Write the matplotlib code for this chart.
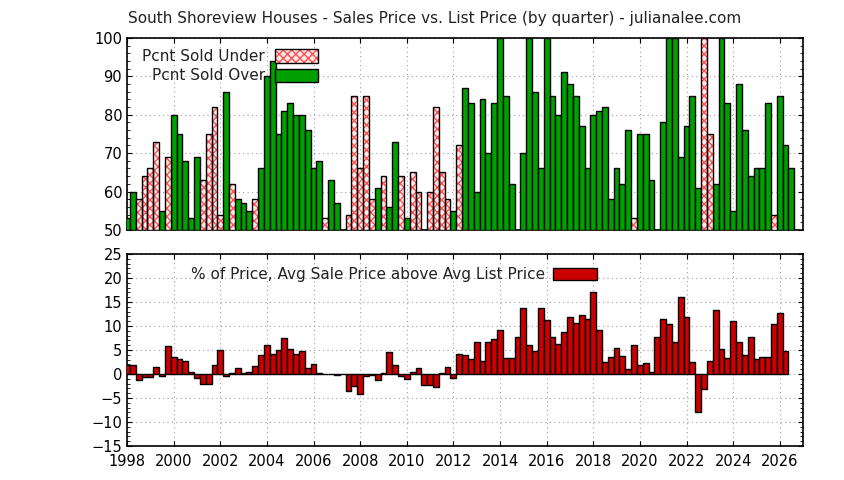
import matplotlib
matplotlib.use("Agg")
import matplotlib.pyplot as plt
import numpy as np
from matplotlib.ticker import MultipleLocator
import matplotlib.patches as mp

# top panel: percentage of sales under or over list price, quarterly from 1998.0 (50 = no bar)
top_vals = [53,60,58,64,66,73,55,69,80,75,68,53,69,63,75,82,54,86,62,58,57,55,58,66,
            90,94,75,81,83,80,80,76,66,68,53,63,57,50,54,85,66,85,58,61,64,56,73,64,53,65,
            60,50,60,82,65,58,
            55,72,87,83,60,84,70,83,100,85,62,50,70,100,86,66,100,85,80,91,88,85,77,66,80,81,
            82,58,66,62,76,53,75,75,63,50,78,100,100,69,77,85,61,100,75,62,100,83,55,88,76,64,
            66,66,83,54,85,72,66]
# quarter indices whose bar is "Pcnt Sold Under"; all others are "Pcnt Sold Over"
under_idx = [2,3,4,5,7,13,14,15,16,18,22,34,38,39,40,41,42,44,47,49,50,52,53,54,55,
             57,87,99,100,111]
# bottom panel: % avg sale price above avg list price
pct_vals = [1.8,1.9,-1.2,-0.6,-0.6,1.5,-0.4,5.8,3.5,3.2,2.7,0.4,-0.8,-2.1,-2.1,1.9,4.9,-0.4,0.2,1.25,
            0.3,0.4,1.7,4.0,6.0,4.2,5.0,7.5,5.2,4.2,4.8,1.25,2.1,0.2,0,0,-0.2,0,-3.6,-2.6,
            -4.2,-0.4,-0.2,-1.25,0.2,4.6,1.9,-0.4,-1.0,0.4,1.25,-2.3,-2.3,-2.7,0.2,
            1.5,-0.8,4.2,4.0,3.1,6.7,2.7,6.7,7.2,9.2,3.3,3.3,7.7,13.75,6.0,4.8,13.75,11.25,7.7,6.25,
            8.75,11.9,10.6,12.3,11.5,17.1,9.2,2.5,3.5,5.4,3.75,1.0,6.0,1.9,2.3,0.4,7.7,11.5,10.4,6.7,
            16.0,11.9,2.5,-7.9,-3.1,2.7,13.3,5.2,3.3,11.0,6.7,4.0,7.7,3.1,3.5,3.5,10.4,12.7,4.8]
start_year = 1998.0

n = len(top_vals)
xt = start_year + 0.25 * np.arange(n)
tv = np.array(top_vals, float)
mu = np.zeros(n, bool)
mu[under_idx] = True
mg = ~mu
xb = start_year + 0.25 * np.arange(len(pct_vals))

fig = plt.figure(figsize=(8.44, 4.8), dpi=100)
ax1 = fig.add_axes([0.1505, 0.521, 0.801, 0.4])
ax2 = fig.add_axes([0.1505, 0.0708, 0.801, 0.4])

green = "#00a000"
pink = "#ffe8e8"
hatchc = "#ff5050"
w = 0.25
ax1.bar(xt[mg], tv[mg] - 50, bottom=50, width=w, color=green, edgecolor="black", linewidth=1, zorder=3)
ax1.bar(xt[mu], tv[mu] - 50, bottom=50, width=w, facecolor=pink, edgecolor=hatchc, hatch="xxxx", linewidth=0, zorder=3)
ax1.bar(xt[mu], tv[mu] - 50, bottom=50, width=w, facecolor="none", edgecolor="black", linewidth=1, zorder=4)

ax2.bar(xb, pct_vals, width=w, color="#cc0000", edgecolor="black", linewidth=1, zorder=3)

for ax in (ax1, ax2):
    ax.set_xlim(1998, 2027)
    ax.xaxis.set_major_locator(MultipleLocator(2))
    ax.grid(True, linestyle=(0, (1, 3)), color="#a0a0a0", linewidth=0.8, zorder=0)
    ax.tick_params(which="both", direction="in", top=True, right=True, labelsize=10.5)
    for s in ax.spines.values():
        s.set_linewidth(1.2)

ax1.set_ylim(50, 100)
ax1.yaxis.set_major_locator(MultipleLocator(10))
ax1.yaxis.set_minor_locator(MultipleLocator(2))
ax1.set_xticklabels([])
ax2.set_ylim(-15, 25)
ax2.yaxis.set_major_locator(MultipleLocator(5))
ax2.yaxis.set_minor_locator(MultipleLocator(1))
ax2.set_xticks(np.arange(1998, 2027, 2))
ax2.tick_params(axis="x", pad=6)

def legend_entry(ax, y, text, **kw):
    ax.text(0.204, y, text, transform=ax.transAxes, ha="right", va="center", fontsize=11, color="#222222", zorder=6)
    ax.add_patch(mp.Rectangle((0.219, y - 0.035), 0.064, 0.07, transform=ax.transAxes, zorder=6, clip_on=False, **kw))
legend_entry(ax1, 0.905, "Pcnt Sold Under", facecolor=pink, edgecolor=hatchc, hatch="xxxx", linewidth=0)
ax1.add_patch(mp.Rectangle((0.219, 0.905 - 0.035), 0.064, 0.07, transform=ax1.transAxes, facecolor="none", edgecolor="black", lw=1, zorder=7))
legend_entry(ax1, 0.805, "Pcnt Sold Over", facecolor=green, edgecolor="black", linewidth=1)

ax2.text(0.618, 0.895, "% of Price, Avg Sale Price above Avg List Price", transform=ax2.transAxes,
         ha="right", va="center", fontsize=11, color="#222222", zorder=6)
ax2.add_patch(mp.Rectangle((0.63, 0.895 - 0.03), 0.065, 0.06, transform=ax2.transAxes, facecolor="#cc0000",
                           edgecolor="black", lw=1, zorder=6))

fig.text(0.515, 0.962, "South Shoreview Houses - Sales Price vs. List Price (by quarter) - julianalee.com",
         ha="center", va="center", fontsize=11, color="#222222")

fig.savefig("out.png", dpi=100)
